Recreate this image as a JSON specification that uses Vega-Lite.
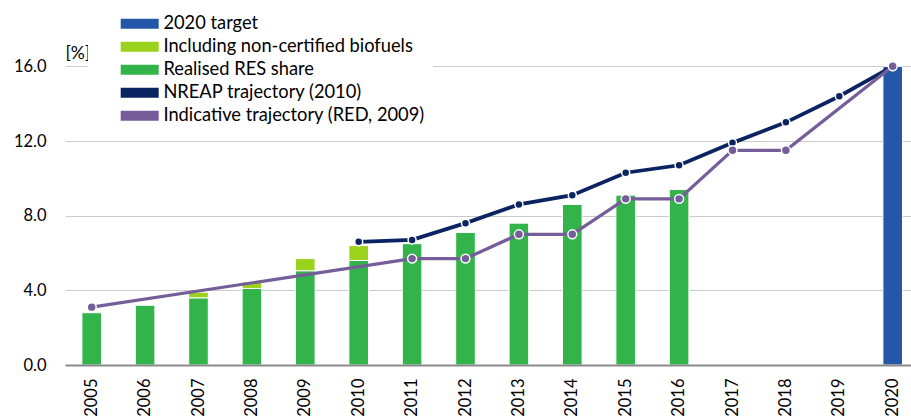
{
  "$schema": "https://vega.github.io/schema/vega-lite/v6.json",
  "autosize": {"type": "none"},
  "width": 846,
  "height": 336,
  "padding": {"left": 65, "top": 29, "right": 0, "bottom": 54},
  "background": "white",
  "config": {"view": {"stroke": null}, "font": "Lato", "axis": {"labelOverlap": false}, "legend": {"symbolType": "M-1,-0.5L2.8,-0.5L2.8,0.5L-1,0.5Z"}},
  "data": {
    "values": [
      {"year": "2005", "series": "Realised RES share", "value": 2.8},
      {"year": "2006", "series": "Realised RES share", "value": 3.2},
      {"year": "2007", "series": "Realised RES share", "value": 3.6},
      {"year": "2008", "series": "Realised RES share", "value": 4.1},
      {"year": "2009", "series": "Realised RES share", "value": 5.05},
      {"year": "2010", "series": "Realised RES share", "value": 5.6},
      {"year": "2011", "series": "Realised RES share", "value": 6.5},
      {"year": "2012", "series": "Realised RES share", "value": 7.1},
      {"year": "2013", "series": "Realised RES share", "value": 7.6},
      {"year": "2014", "series": "Realised RES share", "value": 8.6},
      {"year": "2015", "series": "Realised RES share", "value": 9.1},
      {"year": "2016", "series": "Realised RES share", "value": 9.4},
      {"year": "2007", "series": "Including non-certified biofuels", "value": 0.3},
      {"year": "2008", "series": "Including non-certified biofuels", "value": 0.35},
      {"year": "2009", "series": "Including non-certified biofuels", "value": 0.65},
      {"year": "2010", "series": "Including non-certified biofuels", "value": 0.8},
      {"year": "2020", "series": "2020 target", "value": 16.0},
      {"year": "2010", "series": "NREAP trajectory (2010)", "value": 6.6},
      {"year": "2011", "series": "NREAP trajectory (2010)", "value": 6.7},
      {"year": "2012", "series": "NREAP trajectory (2010)", "value": 7.6},
      {"year": "2013", "series": "NREAP trajectory (2010)", "value": 8.6},
      {"year": "2014", "series": "NREAP trajectory (2010)", "value": 9.1},
      {"year": "2015", "series": "NREAP trajectory (2010)", "value": 10.3},
      {"year": "2016", "series": "NREAP trajectory (2010)", "value": 10.7},
      {"year": "2017", "series": "NREAP trajectory (2010)", "value": 11.9},
      {"year": "2018", "series": "NREAP trajectory (2010)", "value": 13.0},
      {"year": "2019", "series": "NREAP trajectory (2010)", "value": 14.4},
      {"year": "2020", "series": "NREAP trajectory (2010)", "value": 16.0},
      {"year": "2005", "series": "Indicative trajectory (RED, 2009)", "value": 3.1},
      {"year": "2011", "series": "Indicative trajectory (RED, 2009)", "value": 5.7},
      {"year": "2012", "series": "Indicative trajectory (RED, 2009)", "value": 5.7},
      {"year": "2013", "series": "Indicative trajectory (RED, 2009)", "value": 7.0},
      {"year": "2014", "series": "Indicative trajectory (RED, 2009)", "value": 7.0},
      {"year": "2015", "series": "Indicative trajectory (RED, 2009)", "value": 8.9},
      {"year": "2016", "series": "Indicative trajectory (RED, 2009)", "value": 8.9},
      {"year": "2017", "series": "Indicative trajectory (RED, 2009)", "value": 11.5},
      {"year": "2018", "series": "Indicative trajectory (RED, 2009)", "value": 11.5},
      {"year": "2020", "series": "Indicative trajectory (RED, 2009)", "value": 16.0}
    ]
  },
  "layer": [
    {
      "transform": [{"filter": "indexof(['2020 target','Including non-certified biofuels','Realised RES share'], datum.series) >= 0"}],
      "mark": {"type": "bar", "stroke": "white", "strokeWidth": 1},
      "encoding": {
        "x": {
          "field": "year", "type": "ordinal",
          "scale": {"range": [0, 854.4], "paddingInner": 0.633, "paddingOuter": 0.3165},
          "axis": {"title": null, "labelAngle": -90, "labelFont": "Lato", "labelFontSize": 16.5, "labelColor": "#000000", "ticks": false, "labelPadding": 13, "domainColor": "#8a8a8a", "domainWidth": 1.8, "grid": false, "zindex": 1}
        },
        "y": {
          "field": "value", "type": "quantitative", "stack": "zero",
          "scale": {"domain": [0, 18], "nice": false},
          "axis": {"title": "[%]", "titleAngle": 0, "titleX": 0, "titleY": 24, "titleAlign": "left", "titleBaseline": "middle", "titleFont": "Lato", "titleFontSize": 17.5, "titleFontWeight": "normal", "titleColor": "#000000", "labelFont": "Lato", "labelFontSize": 16.5, "labelColor": "#000000", "format": ".1f", "values": [0, 2, 4, 6, 8, 10, 12, 14, 16, 18], "tickCount": 9, "labelOverlap": false, "ticks": false, "domain": false, "labelPadding": 19, "grid": true, "gridColor": "#cbcbcb", "gridWidth": 1.2}
        },
        "color": {
          "field": "series", "type": "nominal",
          "scale": {
            "domain": ["2020 target", "Including non-certified biofuels", "Realised RES share", "NREAP trajectory (2010)", "Indicative trajectory (RED, 2009)"],
            "range": ["#2457A7", "#9BD21E", "#33B44A", "#0B2461", "#745D99"]
          },
          "legend": {
            "title": null, "orient": "none", "legendX": 23, "legendY": -23.3, "padding": 8, "fillColor": "white", "strokeColor": null,
            "symbolType": "M-1,-0.5L2.8,-0.5L2.8,0.5L-1,0.5Z",
            "symbolSize": 400, "symbolStrokeWidth": 0, "symbolOffset": 24.7, "labelOffset": 22.7, "labelFont": "Lato", "labelFontSize": 18.3, "labelColor": "#000000", "labelLimit": 400, "rowPadding": 4
          }
        },
        "order": {"field": "series", "sort": "descending"}
      }
    },
    {
      "transform": [{"filter": "datum.series == 'NREAP trajectory (2010)'"}],
      "mark": {"type": "line", "strokeWidth": 3.8, "point": {"filled": true, "size": 64, "stroke": "white", "strokeWidth": 1.5}},
      "encoding": {
        "x": {
          "field": "year", "type": "ordinal",
          "axis": {"title": null, "labelAngle": -90, "labelFont": "Lato", "labelFontSize": 16.5, "labelColor": "#000000", "ticks": false, "labelPadding": 13, "domainColor": "#8a8a8a", "domainWidth": 1.8, "grid": false, "zindex": 1}
        },
        "y": {
          "field": "value", "type": "quantitative",
          "axis": {"title": "[%]", "titleAngle": 0, "titleX": 0, "titleY": 24, "titleAlign": "left", "titleBaseline": "middle", "titleFont": "Lato", "titleFontSize": 17.5, "titleFontWeight": "normal", "titleColor": "#000000", "labelFont": "Lato", "labelFontSize": 16.5, "labelColor": "#000000", "format": ".1f", "values": [0, 2, 4, 6, 8, 10, 12, 14, 16, 18], "tickCount": 9, "labelOverlap": false, "ticks": false, "domain": false, "labelPadding": 19, "grid": true, "gridColor": "#cbcbcb", "gridWidth": 1.2}
        },
        "color": {"field": "series", "type": "nominal"}
      }
    },
    {
      "transform": [{"filter": "datum.series == 'Indicative trajectory (RED, 2009)'"}],
      "mark": {"type": "line", "strokeWidth": 3.2, "point": {"filled": true, "size": 80, "stroke": "white", "strokeWidth": 1.5}},
      "encoding": {
        "x": {
          "field": "year", "type": "ordinal",
          "axis": {"title": null, "labelAngle": -90, "labelFont": "Lato", "labelFontSize": 16.5, "labelColor": "#000000", "ticks": false, "labelPadding": 13, "domainColor": "#8a8a8a", "domainWidth": 1.8, "grid": false, "zindex": 1}
        },
        "y": {
          "field": "value", "type": "quantitative",
          "axis": {"title": "[%]", "titleAngle": 0, "titleX": 0, "titleY": 24, "titleAlign": "left", "titleBaseline": "middle", "titleFont": "Lato", "titleFontSize": 17.5, "titleFontWeight": "normal", "titleColor": "#000000", "labelFont": "Lato", "labelFontSize": 16.5, "labelColor": "#000000", "format": ".1f", "values": [0, 2, 4, 6, 8, 10, 12, 14, 16, 18], "tickCount": 9, "labelOverlap": false, "ticks": false, "domain": false, "labelPadding": 19, "grid": true, "gridColor": "#cbcbcb", "gridWidth": 1.2}
        },
        "color": {"field": "series", "type": "nominal"}
      }
    }
  ]
}
